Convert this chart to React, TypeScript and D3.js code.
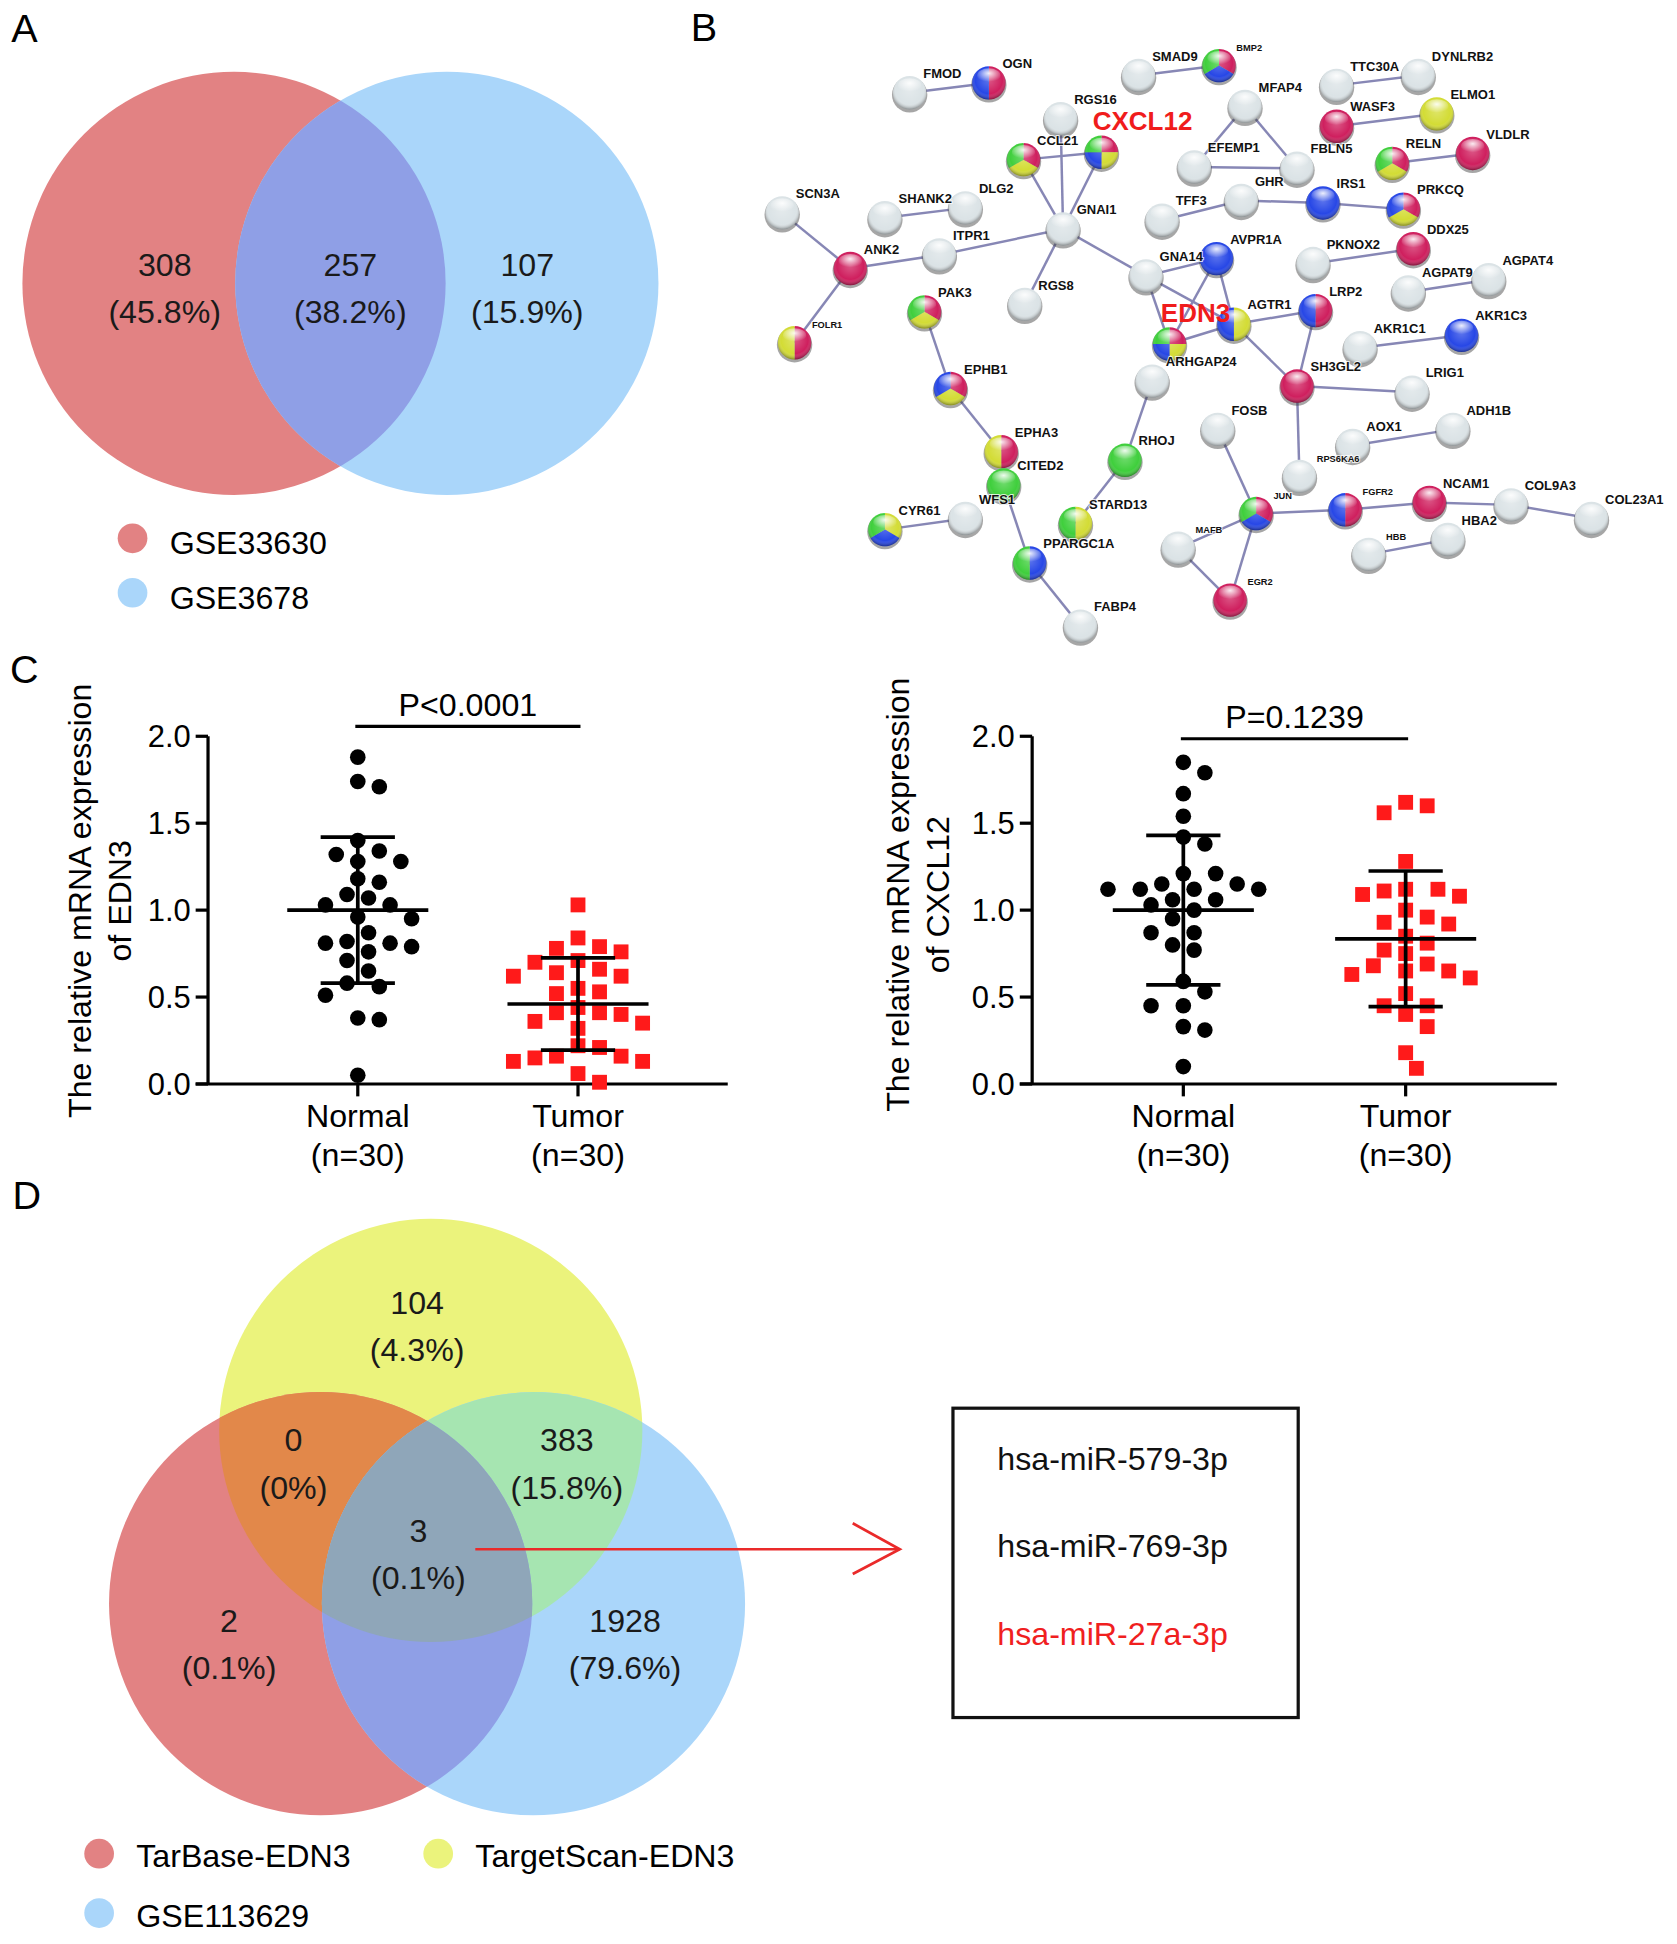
import React from "react";
import * as d3 from "d3";

const FONT = "'Liberation Sans', Arial, Helvetica, sans-serif";
const W = 1355;
const H = 1571;

// ---------- Panel A: two-set Venn ----------
const vennASets = ["GSE33630", "GSE3678"];
const vennACounts = [308, 257, 107];
const vennAPercents = ["45.8%", "38.2%", "15.9%"];

// ---------- Panel B: STRING network ----------
// [gene, layout x, layout y, annotation classes]
const netNodes: [string, number, number, string][] = [
  ["FMOD", 135, 45, ""], ["OGN", 199, 37, "rb"], ["SMAD9", 320, 31, ""], ["BMP2", 385, 23, "rbg"],
  ["RGS16", 257, 66, ""], ["CCL21", 227, 99, "ryg"], ["CXCL12", 290, 93, "rybg"],
  ["SCN3A", 32, 142, ""], ["SHANK2", 115, 146, ""], ["DLG2", 180, 138, ""], ["GNAI1", 259, 155, ""],
  ["ITPR1", 159, 176, ""], ["ANK2", 87, 187, "r"], ["PAK3", 147, 222, "ryg"], ["RGS8", 228, 216, ""],
  ["GNA14", 326, 193, ""], ["TFF3", 339, 148, ""], ["EFEMP1", 365, 105, ""], ["MFAP4", 406, 56, ""],
  ["FBLN5", 448, 106, ""], ["GHR", 403, 132, ""], ["TTC30A", 480, 39, ""], ["DYNLRB2", 546, 31, ""],
  ["WASF3", 480, 72, "r"], ["ELMO1", 561, 62, "y"], ["RELN", 525, 102, "ryg"], ["VLDLR", 590, 94, "r"],
  ["IRS1", 469, 134, "b"], ["PRKCQ", 534, 139, "ryb"], ["DDX25", 542, 171, "r"], ["AVPR1A", 383, 179, "b"],
  ["PKNOX2", 461, 183, ""], ["AGPAT9", 538, 206, ""], ["AGPAT4", 603, 196, ""], ["LRP2", 463, 221, "rb"],
  ["AGTR1", 397, 232, "yb"], ["EDN3", 345, 248, "rybg"], ["ARHGAP24", 331, 278, ""], ["SH3GL2", 448, 282, "r"],
  ["AKR1C1", 499, 251, ""], ["AKR1C3", 581, 241, "b"], ["LRIG1", 541, 287, ""], ["ADH1B", 574, 317, ""],
  ["AOX1", 493, 330, ""], ["RPS6KA6", 450, 355, ""], ["FOSB", 384, 317, ""], ["JUN", 415, 385, "rbg"],
  ["MAFB", 352, 413, ""], ["EGR2", 394, 455, "r"], ["FGFR2", 487, 382, "rb"], ["NCAM1", 555, 376, "r"],
  ["COL9A3", 621, 378, ""], ["COL23A1", 686, 389, ""], ["HBA2", 570, 406, ""], ["HBB", 506, 418, ""],
  ["FOLR1", 42, 247, "ry"], ["EPHB1", 168, 284, "ryb"], ["EPHA3", 209, 335, "ry"], ["CITED2", 211, 362, "g"],
  ["WFS1", 180, 389, ""], ["CYR61", 115, 398, "ybg"], ["PPARGC1A", 232, 425, "bg"], ["FABP4", 273, 476, ""],
  ["RHOJ", 309, 342, "g"], ["STARD13", 269, 393, "yg"],
];
const netEdges: [string, string][] = [
  ["FMOD", "OGN"], ["SMAD9", "BMP2"], ["CCL21", "CXCL12"], ["CCL21", "GNAI1"], ["CXCL12", "GNAI1"],
  ["RGS16", "GNAI1"], ["GNAI1", "ITPR1"], ["GNAI1", "RGS8"], ["GNAI1", "GNA14"], ["ITPR1", "ANK2"],
  ["SCN3A", "ANK2"], ["ANK2", "FOLR1"], ["SHANK2", "DLG2"], ["PAK3", "EPHB1"], ["EPHB1", "EPHA3"],
  ["CITED2", "PPARGC1A"], ["PPARGC1A", "FABP4"], ["CYR61", "WFS1"], ["RHOJ", "STARD13"], ["RHOJ", "ARHGAP24"],
  ["MFAP4", "EFEMP1"], ["MFAP4", "FBLN5"], ["EFEMP1", "FBLN5"], ["TFF3", "GHR"], ["GHR", "IRS1"],
  ["IRS1", "PRKCQ"], ["TTC30A", "DYNLRB2"], ["WASF3", "ELMO1"], ["RELN", "VLDLR"], ["PKNOX2", "DDX25"],
  ["AGPAT9", "AGPAT4"], ["GNA14", "AVPR1A"], ["GNA14", "AGTR1"], ["GNA14", "EDN3"], ["AVPR1A", "EDN3"],
  ["AVPR1A", "AGTR1"], ["EDN3", "AGTR1"], ["AGTR1", "LRP2"], ["AGTR1", "SH3GL2"], ["LRP2", "SH3GL2"],
  ["SH3GL2", "LRIG1"], ["SH3GL2", "RPS6KA6"], ["AKR1C1", "AKR1C3"], ["AOX1", "ADH1B"], ["FOSB", "JUN"],
  ["JUN", "MAFB"], ["JUN", "EGR2"], ["MAFB", "EGR2"], ["JUN", "FGFR2"], ["FGFR2", "NCAM1"],
  ["NCAM1", "COL9A3"], ["COL9A3", "COL23A1"], ["HBB", "HBA2"],
];
const netHighlight = ["CXCL12", "EDN3"];
const netSmallLabels = ["BMP2", "FOLR1", "RPS6KA6", "JUN", "FGFR2", "HBB", "MAFB", "EGR2"];

// ---------- Panel C: scatter plots ----------
const groups = ["Normal", "Tumor"];
const groupN = ["(n=30)", "(n=30)"];
const yTicks = [0, 0.5, 1.0, 1.5, 2.0];
const edn3Normal = [1.88, 1.74, 1.71, 1.40, 1.34, 1.32, 1.28, 1.28, 1.18, 1.16, 1.09, 1.07, 1.03, 1.03, 0.96,
  0.95, 0.87, 0.82, 0.81, 0.81, 0.79, 0.76, 0.71, 0.65, 0.58, 0.56, 0.51, 0.38, 0.37, 0.05];
const edn3Tumor = [1.03, 0.84, 0.79, 0.78, 0.76, 0.71, 0.70, 0.66, 0.64, 0.62, 0.62, 0.55, 0.53, 0.52, 0.44,
  0.41, 0.41, 0.40, 0.36, 0.35, 0.32, 0.22, 0.21, 0.16, 0.16, 0.15, 0.13, 0.13, 0.06, 0.01];
const cxcl12Normal = [1.85, 1.79, 1.67, 1.54, 1.42, 1.38, 1.21, 1.21, 1.15, 1.15, 1.12, 1.12, 1.12, 1.12, 1.06,
  1.06, 1.03, 1.00, 0.95, 0.87, 0.87, 0.80, 0.77, 0.59, 0.53, 0.45, 0.45, 0.33, 0.31, 0.10];
const cxcl12Tumor = [1.62, 1.60, 1.56, 1.28, 1.12, 1.12, 1.11, 1.09, 1.08, 1.00, 0.96, 0.93, 0.92, 0.85, 0.81,
  0.77, 0.75, 0.69, 0.68, 0.65, 0.65, 0.63, 0.61, 0.52, 0.45, 0.45, 0.40, 0.33, 0.18, 0.09];
const edn3Mean = [1.0, 0.46];
const edn3Sd = [0.42, 0.265];
const cxcl12Mean = [1.0, 0.835];
const cxcl12Sd = [0.43, 0.39];
const pLabels = ["P<0.0001", "P=0.1239"];

// ---------- Panel D: three-set Venn + miRNA list ----------
const vennDSets = ["TarBase-EDN3", "TargetScan-EDN3", "GSE113629"];
const vennDRegions = ["Y", "RY", "YB", "RYB", "R", "B"];
const vennDCounts = [104, 0, 383, 3, 2, 1928];
const vennDPercents = ["4.3%", "0%", "15.8%", "0.1%", "0.1%", "79.6%"];
const mirnas = ["hsa-miR-579-3p", "hsa-miR-769-3p", "hsa-miR-27a-3p"];
const mirnaHighlight = [false, false, true];

const VENN_RED = "#e28283";
const VENN_BLUE = "#aad6fa";
const VENN_RB = "#8f9fe6";
const VENN_YEL = "#ebf37c";
const VENN_RY = "#e2884a";
const VENN_YB = "#a6e5b1";
const VENN_RYB = "#8fa6b9";

const NODE_COLORS: Record<string, string> = { r: "#cf1f5e", g: "#3fcf3c", b: "#2747e6", y: "#d3dc35", "": "#dbe3e6" };

// simple beeswarm: each value keeps its y, x is pushed sideways until it clears the others
function swarm(values: number[], cx: number, y: (v: number) => number) {
  const step = 8.7, rx = 17.5, ry = 13;
  const placed: { x: number; y: number }[] = [];
  [...values].sort((a, b) => b - a).forEach((v) => {
    const py = y(v);
    for (let k = 0; k < 30; k++) {
      const off = k === 0 ? 0 : (k % 2 ? 1 : -1) * Math.ceil(k / 2) * step;
      const px = cx + off;
      if (placed.every((p) => ((p.x - px) / rx) ** 2 + ((p.y - py) / ry) ** 2 >= 1)) {
        placed.push({ x: px, y: py });
        break;
      }
    }
  });
  return placed;
}

const ScatterPanel: React.FC<{
  x0: number; x1: number; gene: string; normal: number[]; tumor: number[];
  means: number[]; sds: number[]; p: string; pBase: number; barY: number; titleX: number; titleY: number;
}> = ({ x0, x1, gene, normal, tumor, means, sds, p, pBase, barY, titleX, titleY }) => {
  const y = d3.scaleLinear().domain([0, 2]).range([876, 595]);
  const x = d3.scalePoint<string>().domain(groups).range([x0, x1]).padding(0.68);
  const fmt = d3.format(".1f");
  return (
    <g fontFamily={FONT}>
      <text transform={`translate(${titleX},${titleY}) rotate(-90)`} textAnchor="middle" fontSize={26} dy="0.35em">
        The relative mRNA expression
      </text>
      <text transform={`translate(${titleX + 33},${titleY}) rotate(-90)`} textAnchor="middle" fontSize={26} dy="0.35em">
        {`of ${gene}`}
      </text>
      <line x1={x0} x2={x0} y1={y(2)} y2={y(0)} stroke="#000" strokeWidth={2.6} />
      <line x1={x0 - 10} x2={x1} y1={y(0)} y2={y(0)} stroke="#000" strokeWidth={2.6} />
      {yTicks.map((t) => (
        <g key={t}>
          <line x1={x0 - 10} x2={x0} y1={y(t)} y2={y(t)} stroke="#000" strokeWidth={2.6} />
          <text x={x0 - 14} y={y(t) + 9} textAnchor="end" fontSize={25}>{fmt(t)}</text>
        </g>
      ))}
      {groups.map((g, i) => (
        <g key={g}>
          <line x1={x(g)!} x2={x(g)!} y1={y(0)} y2={y(0) + 10} stroke="#000" strokeWidth={2.6} />
          <text x={x(g)!} y={911} textAnchor="middle" fontSize={26}>{g}</text>
          <text x={x(g)!} y={942} textAnchor="middle" fontSize={26}>{groupN[i]}</text>
        </g>
      ))}
      {swarm(normal, x(groups[0])!, y).map((d, i) => (
        <circle key={`n${i}`} cx={d.x} cy={d.y} r={6.3} fill="#000" />
      ))}
      {swarm(tumor, x(groups[1])!, y).map((d, i) => (
        <rect key={`t${i}`} x={d.x - 6} y={d.y - 6} width={12} height={12} fill="#ff1a1a" />
      ))}
      {groups.map((g, i) => {
        const cx = x(g)!;
        return (
          <g key={`s${g}`} stroke="#000" strokeWidth={3}>
            <line x1={cx - 57} x2={cx + 57} y1={y(means[i])} y2={y(means[i])} />
            <line x1={cx} x2={cx} y1={y(means[i] - sds[i])} y2={y(means[i] + sds[i])} />
            <line x1={cx - 30} x2={cx + 30} y1={y(means[i] + sds[i])} y2={y(means[i] + sds[i])} />
            <line x1={cx - 30} x2={cx + 30} y1={y(means[i] - sds[i])} y2={y(means[i] - sds[i])} />
          </g>
        );
      })}
      <line x1={x(groups[0])! - 2} x2={x(groups[1])! + 2} y1={barY} y2={barY} stroke="#000" strokeWidth={2.6} />
      <text x={(x(groups[0])! + x(groups[1])!) / 2} y={pBase} textAnchor="middle" fontSize={26}>{p}</text>
    </g>
  );
};

const Network: React.FC = () => {
  const nx = d3.scaleLinear().domain([0, 700]).range([600, 1300]);
  const ny = d3.scaleLinear().domain([0, 480]).range([30, 510]);
  const R = 13.5;
  const pos = new Map(netNodes.map(([n, lx, ly]) => [n, [nx(lx), ny(ly)] as [number, number]]));
  const pie = d3.pie<string>().value(1).sort(null);
  const arc = d3.arc<d3.PieArcDatum<string>>().innerRadius(0).outerRadius(R);
  return (
    <g fontFamily={FONT}>
      <defs>
        <radialGradient id="nodeShade" cx="50%" cy="42%" r="58%">
          <stop offset="0%" stopColor="#fff" stopOpacity={0.25} />
          <stop offset="70%" stopColor="#fff" stopOpacity={0} />
          <stop offset="100%" stopColor="#000" stopOpacity={0.38} />
        </radialGradient>
        <radialGradient id="nodeHi" cx="50%" cy="35%" r="60%">
          <stop offset="0%" stopColor="#fff" stopOpacity={0.9} />
          <stop offset="100%" stopColor="#fff" stopOpacity={0} />
        </radialGradient>
      </defs>
      {netEdges.map(([a, b]) => {
        const [x1, y1] = pos.get(a)!;
        const [x2, y2] = pos.get(b)!;
        return <line key={`${a}-${b}`} x1={x1} y1={y1} x2={x2} y2={y2} stroke="#8787b5" strokeWidth={2} />;
      })}
      {netNodes.map(([name, , , cls]) => {
        const [cx, cy] = pos.get(name)!;
        const slices = pie(cls ? cls.split("") : [""]);
        return (
          <g key={name} transform={`translate(${cx},${cy})`}>
            <circle r={R + 0.8} cy={1.6} fill="#3a3a3a" opacity={0.45} />
            {slices.map((s, i) => (
              <path key={i} d={arc(s)!} fill={NODE_COLORS[s.data]} />
            ))}
            <circle r={R} fill="url(#nodeShade)" />
            <ellipse cy={-R * 0.45} rx={R * 0.7} ry={R * 0.42} fill="url(#nodeHi)" />
          </g>
        );
      })}
      {netNodes.map(([name]) => {
        const [cx, cy] = pos.get(name)!;
        if (netHighlight.includes(name)) {
          return (
            <text key={`l${name}`} x={cx - 7} y={cy - 18} fontSize={21} fontWeight="bold" fill="#f01c1c">{name}</text>
          );
        }
        const small = netSmallLabels.includes(name);
        return (
          <text key={`l${name}`} x={cx + (small ? 14 : 11)} y={cy - 12} fontSize={small ? 7.5 : 10.5}
            fontWeight="bold" fill="#111" stroke="#fff" strokeWidth={1.6} strokeOpacity={0.8}
            style={{ paintOrder: "stroke" }}>{name}</text>
        );
      })}
    </g>
  );
};

const App: React.FC = () => {
  // Venn A geometry
  const aR = 171;
  const aC: [number, number][] = [[189, 229], [361, 229]];
  const aLabelPos: [number, number][] = [[133, 214], [283, 214], [426, 214]];
  // Venn D geometry (red, yellow, blue)
  const dR = 171;
  const dRed: [number, number] = [259, 1296];
  const dYel: [number, number] = [348, 1156];
  const dBlu: [number, number] = [431, 1296];
  const dLabelPos: Record<string, [number, number]> = {
    Y: [337, 1053], RY: [237, 1164], YB: [458, 1164], RYB: [338, 1237], R: [185, 1310], B: [505, 1310],
  };
  const vennDColors = [VENN_RED, VENN_YEL, VENN_BLUE];
  const miY = d3.scalePoint<string>().domain(mirnas).range([1188, 1329]);

  return (
    <svg
      width={1677}
      height={1944}
      viewBox={`0 0 ${W} ${H}`}
      style={{ position: "absolute", left: 0, top: 0, background: "#fff" }}
      fontFamily={FONT}
    >
      <rect width={W} height={H} fill="#fff" />
      <defs>
        <clipPath id="clipA0"><circle cx={aC[0][0]} cy={aC[0][1]} r={aR} /></clipPath>
        <clipPath id="clipDR"><circle cx={dRed[0]} cy={dRed[1]} r={dR} /></clipPath>
        <clipPath id="clipDY"><circle cx={dYel[0]} cy={dYel[1]} r={dR} /></clipPath>
      </defs>

      {/* panel letters */}
      <text x={9} y={34} fontSize={32}>A</text>
      <text x={558} y={33} fontSize={32}>B</text>
      <text x={8} y={552} fontSize={32}>C</text>
      <text x={10} y={977} fontSize={32}>D</text>

      {/* Panel A */}
      <circle cx={aC[0][0]} cy={aC[0][1]} r={aR} fill={VENN_RED} />
      <circle cx={aC[1][0]} cy={aC[1][1]} r={aR} fill={VENN_BLUE} />
      <circle cx={aC[1][0]} cy={aC[1][1]} r={aR} fill={VENN_RB} clipPath="url(#clipA0)" />
      {vennACounts.map((c, i) => (
        <g key={i} fontSize={26} textAnchor="middle" fill="#1a1a1a">
          <text x={aLabelPos[i][0]} y={aLabelPos[i][1] + 9}>{c}</text>
          <text x={aLabelPos[i][0]} y={aLabelPos[i][1] + 47}>{`(${vennAPercents[i]})`}</text>
        </g>
      ))}
      {vennASets.map((s, i) => (
        <g key={s}>
          <circle cx={107} cy={435 + i * 44} r={12} fill={i === 0 ? VENN_RED : VENN_BLUE} />
          <text x={137} y={448 + i * 44} fontSize={26}>{s}</text>
        </g>
      ))}

      {/* Panel B */}
      <Network />

      {/* Panel C */}
      <ScatterPanel x0={168} x1={588} gene="EDN3" normal={edn3Normal} tumor={edn3Tumor}
        means={edn3Mean} sds={edn3Sd} p={pLabels[0]} pBase={579} barY={587} titleX={64} titleY={728} />
      <ScatterPanel x0={834} x1={1258} gene="CXCL12" normal={cxcl12Normal} tumor={cxcl12Tumor}
        means={cxcl12Mean} sds={cxcl12Sd} p={pLabels[1]} pBase={588} barY={597} titleX={725} titleY={723} />

      {/* Panel D */}
      <circle cx={dYel[0]} cy={dYel[1]} r={dR} fill={VENN_YEL} />
      <circle cx={dRed[0]} cy={dRed[1]} r={dR} fill={VENN_RED} />
      <circle cx={dBlu[0]} cy={dBlu[1]} r={dR} fill={VENN_BLUE} />
      <circle cx={dYel[0]} cy={dYel[1]} r={dR} fill={VENN_RY} clipPath="url(#clipDR)" />
      <circle cx={dBlu[0]} cy={dBlu[1]} r={dR} fill={VENN_YB} clipPath="url(#clipDY)" />
      <circle cx={dBlu[0]} cy={dBlu[1]} r={dR} fill={VENN_RB} clipPath="url(#clipDR)" />
      <g clipPath="url(#clipDR)">
        <circle cx={dBlu[0]} cy={dBlu[1]} r={dR} fill={VENN_RYB} clipPath="url(#clipDY)" />
      </g>
      {vennDRegions.map((r, i) => (
        <g key={r} fontSize={26} textAnchor="middle" fill="#1a1a1a">
          <text x={dLabelPos[r][0]} y={dLabelPos[r][1] + 9}>{vennDCounts[i]}</text>
          <text x={dLabelPos[r][0]} y={dLabelPos[r][1] + 47}>{`(${vennDPercents[i]})`}</text>
        </g>
      ))}
      {vennDSets.map((s, i) => {
        const lx = i === 1 ? 354 : 80;
        const ly = i === 2 ? 1546 : 1498;
        return (
          <g key={s}>
            <circle cx={lx} cy={ly} r={12} fill={vennDColors[i]} />
            <text x={lx + 30} y={ly + 11} fontSize={26}>{s}</text>
          </g>
        );
      })}

      {/* arrow */}
      <g stroke="#ea2a2a" strokeWidth={2.2} fill="none">
        <line x1={384} y1={1252} x2={727} y2={1252} />
        <polyline points="689,1231 727,1252 689,1272" />
      </g>

      {/* miRNA box */}
      <rect x={770} y={1138} width={279} height={250} fill="none" stroke="#111" strokeWidth={2.6} />
      {mirnas.map((m, i) => (
        <text key={m} x={899} y={miY(m)} textAnchor="middle" fontSize={26} fill={mirnaHighlight[i] ? "#f0201e" : "#111"}>
          {m}
        </text>
      ))}
    </svg>
  );
};

export default App;
